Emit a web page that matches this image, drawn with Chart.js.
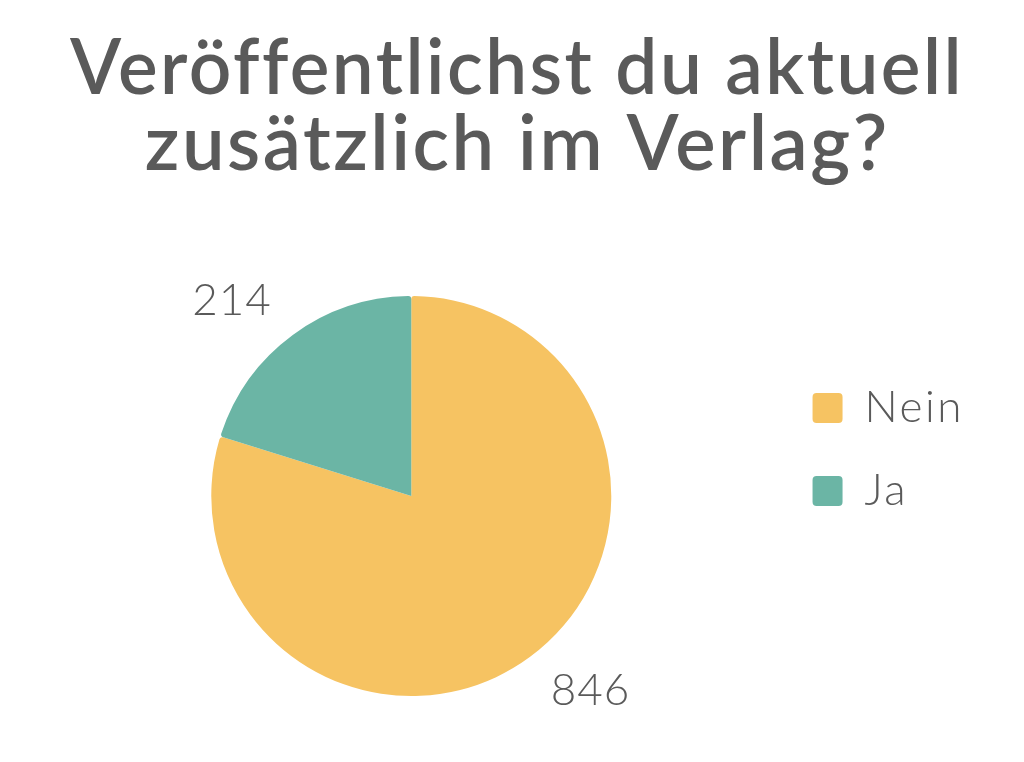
<!DOCTYPE html>
<html>
<head>
<meta charset="utf-8">
<script src="https://cdn.jsdelivr.net/npm/chart.js@4"></script>
<style>
  html, body { margin: 0; padding: 0; background: #fff; }
  #wrap { width: 1024px; height: 762px; }
</style>
</head>
<body>
<div id="wrap"><canvas id="myChart"></canvas></div>
<script>
const categories = ["Nein", "Ja"];
const counts = [846, 214];
const sliceColors = ["#F6C362", "#6BB5A5"];
const titleLines = ["Veröffentlichst du aktuell", "zusätzlich im Verlag?"];

const textColor = "#5a5a5a";

// wide tracking like the original font
const spacingPlugin = {
  id: "spacing",
  beforeDraw(chart) {
    chart.ctx.letterSpacing = "2.5px";
  }
};

// number labels outside each slice (box corner sits next to the rim)
const valueLabels = {
  id: "valueLabels",
  afterDatasetsDraw(chart) {
    const ctx = chart.ctx;
    const meta = chart.getDatasetMeta(0);
    ctx.save();
    ctx.letterSpacing = "1px";
    ctx.font = "300 44px Lato";
    ctx.fillStyle = textColor;
    ctx.textAlign = "center";
    ctx.textBaseline = "middle";
    meta.data.forEach((arc, i) => {
      const txt = String(counts[i]);
      const mid = (arc.startAngle + arc.endAngle) / 2;
      const cx = Math.cos(mid), cy = Math.sin(mid);
      const px = arc.x + cx * arc.outerRadius;
      const py = arc.y + cy * arc.outerRadius;
      const halfW = ctx.measureText(txt).width / 2;
      const x = px + Math.sign(cx) * (halfW + 21);
      const y = py + Math.sign(cy) * (22 + 12);
      ctx.fillText(txt, x, y);
    });
    ctx.restore();
  }
};

const ctx = document.getElementById("myChart").getContext("2d");
const myChart = new Chart(ctx, {
  type: "pie",
  data: {
    labels: categories,
    datasets: [
      {
        data: counts,
        backgroundColor: sliceColors,
        borderWidth: 0,
        borderRadius: 3,
      },
    ],
  },
  options: {
    responsive: true,
    maintainAspectRatio: false,
    animation: false,
    layout: {
      padding: { left: 49, right: 60, top: 0, bottom: 66 },
    },
    plugins: {
      title: {
        display: true,
        text: titleLines.map((t) => " " + t),
        color: textColor,
        font: { family: "Lato", size: 76, weight: "600", lineHeight: 1.0 },
        padding: { top: 31, bottom: 113 },
      },
      legend: {
        position: "right",
        title: {
          display: true,
          text: " ",
          font: { size: 3, lineHeight: 1 },
          padding: { top: 200, bottom: 0 },
        },
        labels: {
          color: textColor,
          font: { family: "Lato", size: 44, weight: "300" },
          boxWidth: 30,
          boxHeight: 30,
          useBorderRadius: true,
          borderRadius: 4,
          padding: 39,
        },
      },
      tooltip: { enabled: false },
    },
  },
  plugins: [spacingPlugin, valueLabels],
});
</script>
</body>
</html>
